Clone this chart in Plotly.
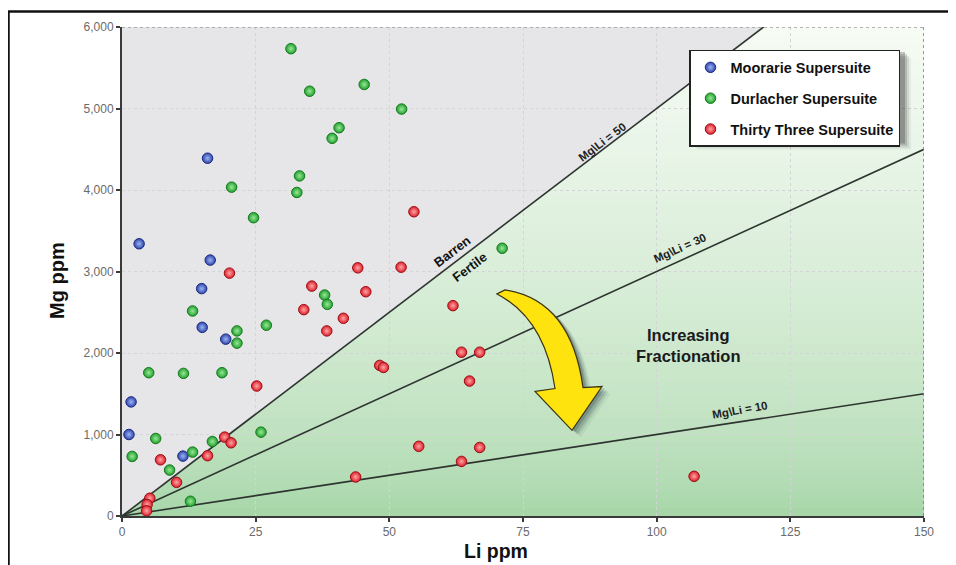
import plotly.graph_objects as go

# ---------------- data ----------------
moorarie_li = [1.7, 1.3, 3.2, 16.0, 16.5, 14.9, 15.0, 19.4, 11.4]
moorarie_mg = [1400, 1000, 3340, 4390, 3140, 2790, 2315, 2170, 735]

durlacher_li = [31.6, 35.1, 45.3, 52.3, 40.6, 39.3, 33.2, 32.7, 20.5, 24.6, 71.1,
                37.9, 38.4, 13.2, 21.5, 21.5, 27.0, 5.0, 11.5, 18.7, 1.9, 6.3,
                16.9, 13.2, 8.9, 12.8, 26.0]
durlacher_mg = [5734, 5212, 5295, 4993, 4764, 4634, 4173, 3970, 4035, 3660, 3285,
                2711, 2597, 2516, 2271, 2121, 2341, 1758, 1750, 1758, 731, 951,
                914, 784, 564, 181, 1029]

thirty_li = [20.1, 44.1, 52.2, 35.5, 45.6, 34.0, 41.4, 38.3, 25.2, 48.2, 48.9,
             19.2, 20.4, 7.2, 16.0, 10.2, 5.2, 4.7, 4.6, 43.7, 55.5, 54.6, 61.9,
             63.5, 66.9, 65.0, 66.9, 63.5, 107.0]
thirty_mg = [2980, 3045, 3053, 2821, 2752, 2532, 2426, 2271, 1595, 1848, 1823,
             968, 898, 690, 740, 413, 218, 141, 64, 479, 855, 3733, 2581,
             2010, 2010, 1656, 841, 670, 487]

ratios = [50, 30, 10]
ratio_labels = ["Mg\\Li = 50", "Mg\\Li = 30", "Mg\\Li = 10"]
x_ticks = [0, 25, 50, 75, 100, 125, 150]
y_ticks = [0, 1000, 2000, 3000, 4000, 5000, 6000]
X_MAX, Y_MAX = 150, 6000

# ---------------- geometry helpers (page pixels) ----------------
L, R, T, B = 122, 924, 25, 516     # plot area in page pixels
W, H = 956, 565
OFF = 8                            # default body margin of the html page


def pxx(px):
    return (px - L) / (R - L)


def pyy(py):
    return (B - py) / (B - T)


def dx(px):
    return (px - L) / (R - L) * X_MAX


def dy(py):
    return (B - py) / (B - T) * Y_MAX


FONT = "Liberation Sans, Arial, sans-serif"

fig = go.Figure()

# ratio lines
for r in ratios:
    xe = min(X_MAX, Y_MAX / r)
    fig.add_trace(go.Scatter(x=[0, xe], y=[0, xe * r], mode="lines",
                             line=dict(color="#2e3530", width=1.6),
                             showlegend=False, hoverinfo="skip"))

series = [
    ("Moorarie Supersuite", moorarie_li, moorarie_mg, "#2f46b0", "#9db4f0", "#1c2a7e"),
    ("Durlacher Supersuite", durlacher_li, durlacher_mg, "#22a02e", "#98e898", "#157a1e"),
    ("Thirty Three Supersuite", thirty_li, thirty_mg, "#dc1f2a", "#ffa5a5", "#9c0e16"),
]
for i, (name, xs, ys, c, cc, lc) in enumerate(series):
    fig.add_trace(go.Scatter(
        x=xs, y=ys, mode="markers", name=name, legendgroup=str(i),
        marker=dict(size=10.5, color=c, line=dict(color=lc, width=1),
                    gradient=dict(type="radial", color=cc)),
    ))

shapes = []


def hexc(h):
    h = h.lstrip("#")
    return [int(h[k:k + 2], 16) for k in (0, 2, 4)]


# green gradient region below Mg/Li = 50 (bands)
bot = hexc("#a2d4a4")
top = hexc("#f6fbf4")
NB = 60
for k in range(NB):
    y0 = Y_MAX * k / NB
    y1 = min(Y_MAX, Y_MAX * (k + 1) / NB + 15)
    t = ((k + 0.5) / NB) ** 0.6
    col = "rgb(%d,%d,%d)" % tuple(round(bot[j] + (top[j] - bot[j]) * t) for j in range(3))
    path = "M %f,%f L %f,%f L %f,%f L %f,%f Z" % (y0 / 50, y0, X_MAX, y0, X_MAX, y1, y1 / 50, y1)
    shapes.append(dict(type="path", path=path, xref="x", yref="y", layer="below",
                       fillcolor=col, line=dict(width=0)))

# dotted top/right border of plot
shapes.append(dict(type="line", xref="x", yref="y", x0=0, x1=X_MAX, y0=Y_MAX, y1=Y_MAX,
                   line=dict(color="#9a9a9a", width=1.5, dash="dot"), layer="above"))
shapes.append(dict(type="line", xref="x", yref="y", x0=X_MAX, x1=X_MAX, y0=0, y1=Y_MAX,
                   line=dict(color="#7a7a7a", width=1.5, dash="dot"), layer="above"))

# yellow curved arrow (designed in page pixels, converted to data coords)
arrow_px = [("M", [(497, 293)]), ("L", [(505, 289)]), ("Q", [(571, 299), (583, 387)]),
            ("L", [(602, 386)]), ("L", [(572, 430)]), ("L", [(535, 391)]),
            ("L", [(555, 388)]), ("Q", [(545, 318), (497, 293)])]


def arrow_path(ox=0, oy=0):
    parts = []
    for cmd, pts in arrow_px:
        parts.append(cmd + " " + " ".join("%f,%f" % (dx(p[0] + ox), dy(p[1] + oy)) for p in pts))
    return " ".join(parts) + " Z"


for ox, oy, op in [(9, 7, 0.06), (7, 5, 0.10), (5, 4, 0.16), (3, 2, 0.22)]:
    shapes.append(dict(type="path", path=arrow_path(ox, oy), xref="x", yref="y",
                       fillcolor="#1b2b3a", opacity=op, line=dict(width=0), layer="above"))
shapes.append(dict(type="path", path=arrow_path(), xref="x", yref="y",
                   fillcolor="#ffe30f", line=dict(color="#3b3410", width=1.2), layer="above"))

# legend shadow
for off, op in [(8, 0.06), (6, 0.10), (4, 0.16), (2, 0.25)]:
    shapes.append(dict(type="rect", xref="paper", yref="paper",
                       x0=pxx(689 + off), x1=pxx(903 + off), y0=pyy(140 + off), y1=pyy(48 + off),
                       fillcolor="#222", opacity=op, line=dict(width=0), layer="above"))

# outer frame
shapes.append(dict(type="line", xref="paper", yref="paper", x0=pxx(0), x1=pxx(W + 10),
                   y0=pyy(9.5), y1=pyy(9.5), line=dict(color="#111", width=2.5)))
shapes.append(dict(type="line", xref="paper", yref="paper", x0=pxx(8.5), x1=pxx(8.5),
                   y0=pyy(9.5), y1=pyy(H + 10), line=dict(color="#111", width=2.5)))


def ann(text, x, y, size, angle=0, color="#111", ref="data"):
    d = dict(text=text, showarrow=False, textangle=angle, xanchor="center", yanchor="middle",
             font=dict(family=FONT, size=size, color=color, weight="bold"))
    if ref == "paper":
        d.update(xref="paper", yref="paper", x=pxx(x), y=pyy(y))
    else:
        d.update(x=dx(x), y=dy(y))
    return d


annotations = [
    ann("Mg ppm", 57, 280, 20, -90, ref="paper"),
    ann("Li ppm", 496, 551, 19.5, ref="paper"),
    ann("Barren", 452, 250, 13, -37),
    ann("Fertile", 469, 266, 13, -37),
    ann(ratio_labels[0], 602, 140, 11.5, -37, "#222"),
    ann(ratio_labels[1], 680, 247, 11.5, -24, "#222"),
    ann(ratio_labels[2], 740, 410, 11.5, -10, "#222"),
    ann("Increasing<br>Fractionation", 688, 345, 16.5, 0, "#1a1a1a"),
]

fig.update_layout(
    width=W, height=H,
    margin=dict(l=L - OFF, r=W - (R - OFF), t=T - OFF, b=H - (B - OFF), pad=0),
    paper_bgcolor="white",
    plot_bgcolor="#e6e6e8",
    font=dict(family=FONT),
    shapes=shapes,
    annotations=annotations,
    showlegend=True,
    legend=dict(x=pxx(689), y=pyy(48), xanchor="left", yanchor="top",
                bgcolor="white", bordercolor="#222", borderwidth=1.5,
                tracegroupgap=9, traceorder="grouped",
                font=dict(family=FONT, size=14.5, color="#111", weight="bold")),
    xaxis=dict(range=[0, X_MAX], tickvals=x_ticks, showgrid=True, gridcolor="#d3d4d6",
               griddash="dot", gridwidth=1, zeroline=False, showline=True,
               linecolor="#3a3a3a", linewidth=2, ticks="outside", ticklen=4,
               tickcolor="#3a3a3a", tickwidth=1.5,
               tickfont=dict(family=FONT, size=12, color="#6a6a6a")),
    yaxis=dict(range=[0, Y_MAX], tickvals=y_ticks, tickformat=",", showgrid=True,
               gridcolor="#d3d4d6", griddash="dot", gridwidth=1, zeroline=False,
               showline=True, linecolor="#3a3a3a", linewidth=2, ticks="outside",
               ticklen=4, tickcolor="#3a3a3a", tickwidth=1.5,
               tickfont=dict(family=FONT, size=12, color="#6a6a6a")),
)

fig.write_html("out.html")
